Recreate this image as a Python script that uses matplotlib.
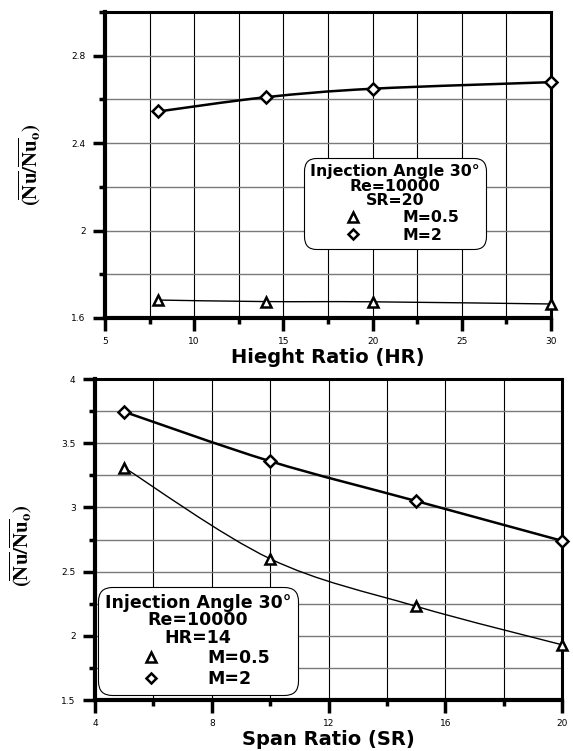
import numpy as np
import matplotlib
matplotlib.use("Agg")
import matplotlib.pyplot as plt
from matplotlib.path import Path
from matplotlib.patches import PathPatch
from matplotlib.ticker import MultipleLocator, FormatStrFormatter

plt.rcParams["font.family"] = ["DejaVu Sans"]
plt.rcParams["mathtext.fontset"] = "stix"

# Height ratio sweep (SR = 20)
hr = [8, 14, 20, 30]
hr_m05 = [1.682, 1.675, 1.674, 1.664]
hr_m2 = [2.545, 2.610, 2.649, 2.679]

# Span ratio sweep (HR = 14)
sr = [5, 10, 15, 20]
sr_m05 = [3.31, 2.60, 2.23, 1.93]
sr_m2 = [3.745, 3.36, 3.05, 2.74]

YLABEL = r"$\mathbf{(\overline{Nu}/\overline{Nu}_{o})}$"


def smooth_path(x, y):
    """Catmull-Rom curve through the points, as cubic Bezier segments."""
    pts = np.column_stack([x, y]).astype(float)
    ext = np.vstack([pts[0], pts, pts[-1]])
    verts = [pts[0]]
    codes = [Path.MOVETO]
    for i in range(1, len(ext) - 2):
        p0, p1, p2, p3 = ext[i - 1], ext[i], ext[i + 1], ext[i + 2]
        verts += [p1 + (p2 - p0) / 6.0, p2 - (p3 - p1) / 6.0, p2]
        codes += [Path.CURVE4] * 3
    return Path(verts, codes)


def draw_series(ax, x, y, marker, lw, ms):
    ax.add_patch(PathPatch(smooth_path(x, y), fill=False, ec="black", lw=lw, zorder=3))
    ax.plot(x, y, linestyle="none", marker=marker, ms=ms, mfc="white",
            mec="black", mew=1.8, zorder=4, clip_on=False)


def style_axes(ax, xmaj, xmin, ymaj, ymin):
    ax.xaxis.set_major_locator(MultipleLocator(xmaj))
    ax.xaxis.set_minor_locator(MultipleLocator(xmin))
    ax.yaxis.set_major_locator(MultipleLocator(ymaj))
    ax.yaxis.set_minor_locator(MultipleLocator(ymin))
    ax.xaxis.set_major_formatter(FormatStrFormatter("%g"))
    ax.yaxis.set_major_formatter(FormatStrFormatter("%g"))
    ax.grid(True, which="both", axis="x", color="black", lw=0.8)
    ax.grid(True, which="both", axis="y", color="#7a7a7a", lw=1.0)
    ax.set_axisbelow(True)
    for side in ["left", "bottom"]:
        ax.spines[side].set_linewidth(3.0)
    for side in ["top", "right"]:
        ax.spines[side].set_linewidth(2.2)
    ax.tick_params(which="major", direction="out", length=9, width=2.5,
                   labelsize=6.5, pad=5)
    ax.tick_params(which="minor", direction="out", length=4, width=2.5)


def make_legend(ax, cond, anchor, fs, hl, tp):
    handles = [
        plt.Line2D([], [], ls="none", marker="^", ms=6.5, mfc="white", mec="black", mew=1.8),
        plt.Line2D([], [], ls="none", marker="D", ms=5, mfc="white", mec="black", mew=1.8),
    ]
    leg = ax.legend(handles, ["M=0.5", "M=2"],
                    title="Injection Angle 30\u00b0\nRe=10000\n" + cond,
                    loc="upper left", bbox_to_anchor=anchor, borderaxespad=0,
                    fancybox=True, framealpha=1, edgecolor="black", numpoints=1,
                    alignment="left", handlelength=hl, handletextpad=tp,
                    labelspacing=0.15, borderpad=0.4,
                    prop={"weight": "bold", "size": fs},
                    title_fontproperties={"weight": "bold", "size": fs})
    leg.get_frame().set_linewidth(0.8)
    leg.get_frame().set_boxstyle("round", pad=0.0, rounding_size=0.8)
    leg.get_title().set_multialignment("center")
    leg.get_title().set_linespacing(0.95)
    leg.set_zorder(5)


fig = plt.figure(figsize=(5.73, 7.51), dpi=100)

# top panel: effect of height ratio
ax1 = fig.add_axes([0.1832, 0.5766, 0.7784, 0.4074])
ax1.set_xlim(5, 30)
ax1.set_ylim(1.6, 3.0)
style_axes(ax1, 5, 2.5, 0.4, 0.2)
draw_series(ax1, hr, hr_m05, "^", 1.0, 7.5)
draw_series(ax1, hr, hr_m2, "D", 1.8, 6.5)
ax1.set_xlabel("Hieght Ratio (HR)", fontsize=14, fontweight="bold", labelpad=1)
ax1.set_ylabel(YLABEL, fontsize=15)
ax1.yaxis.set_label_coords(-0.14, 0.5)
make_legend(ax1, "SR=20", (0.446, 0.523), 11.3, 5.5, 0.4)

# bottom panel: effect of span ratio
ax2 = fig.add_axes([0.1658, 0.0679, 0.8150, 0.4274])
ax2.set_xlim(4, 20)
ax2.set_ylim(1.5, 4.0)
style_axes(ax2, 4, 2, 0.5, 0.25)
draw_series(ax2, sr, sr_m05, "^", 1.0, 7.5)
draw_series(ax2, sr, sr_m2, "D", 1.8, 6.5)
ax2.set_xlabel("Span Ratio (SR)", fontsize=14, fontweight="bold", labelpad=1)
ax2.set_ylabel(YLABEL, fontsize=15)
ax2.yaxis.set_label_coords(-0.13, 0.48)
make_legend(ax2, "HR=14", (0.006, 0.352), 12.5, 5.3, 0.63)

fig.savefig("out.png", dpi=100)
